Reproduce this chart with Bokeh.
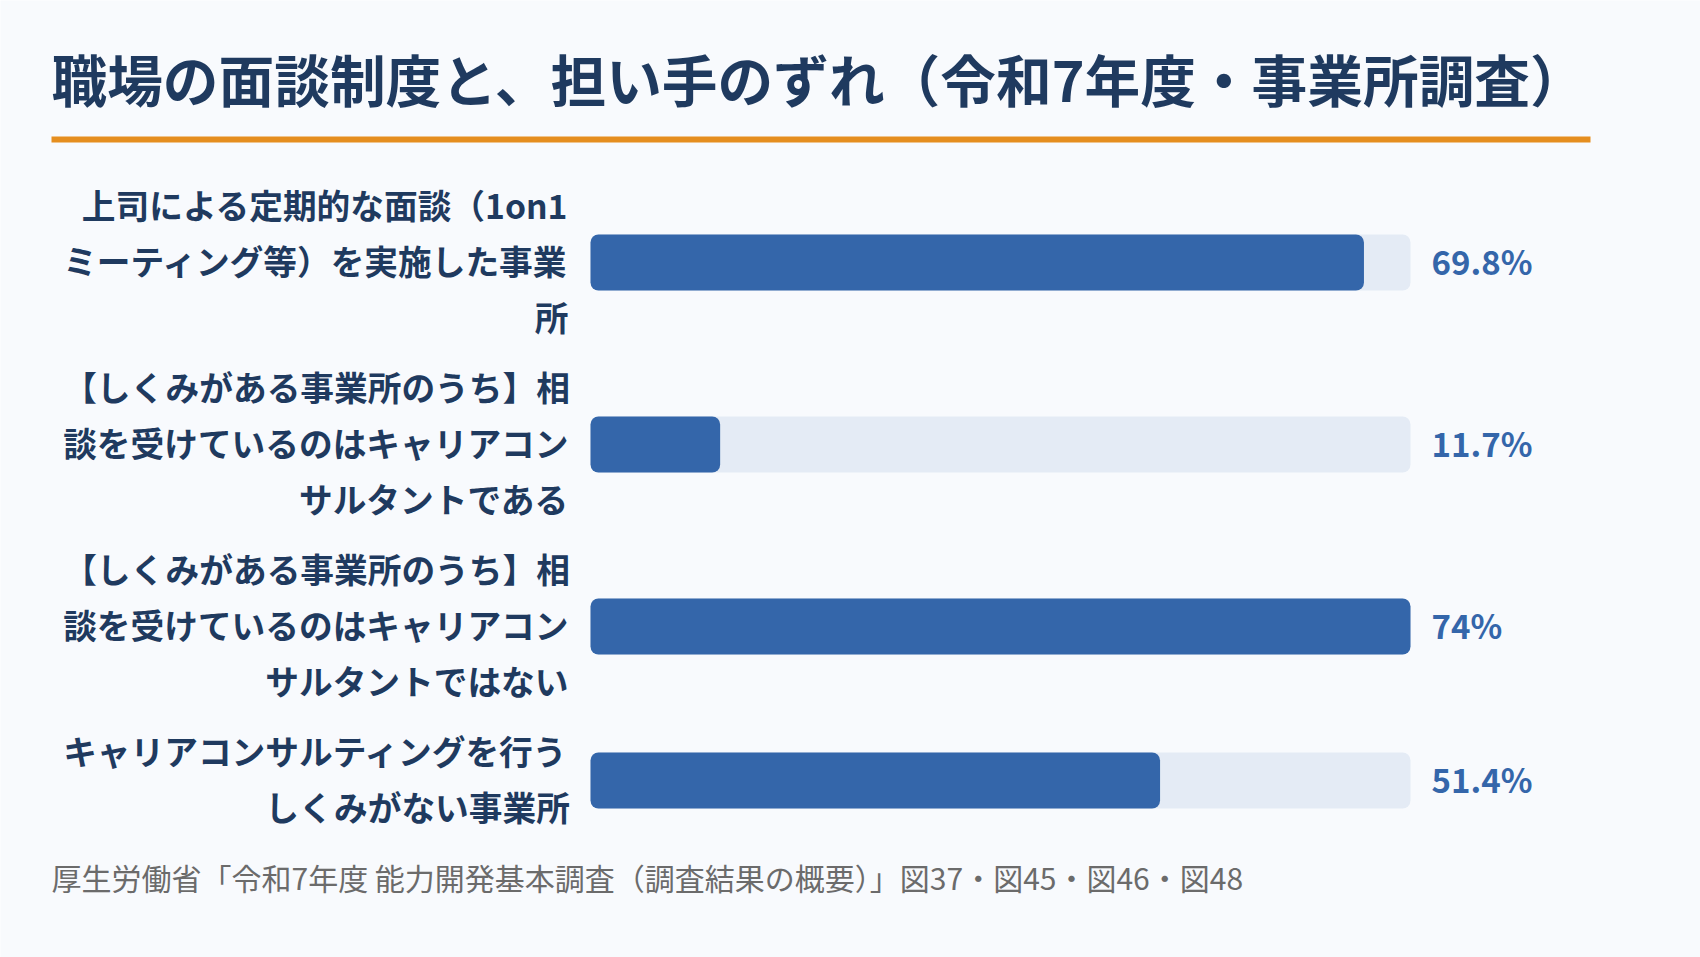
from bokeh.plotting import figure
from bokeh.models import Range1d
from bokeh.core.properties import value
from bokeh.embed import file_html
from bokeh.resources import INLINE

### Données (rapport de l'enquête)

title = "職場の面談制度と、担い手のずれ（令和7年度・事業所調査）"
source_note = "厚生労働省「令和7年度 能力開発基本調査（調査結果の概要）」図37・図45・図46・図48"

labels = [
    ["上司による定期的な面談（1on1", "ミーティング等）を実施した事業", "所"],
    ["【しくみがある事業所のうち】相", "談を受けているのはキャリアコン", "サルタントである"],
    ["【しくみがある事業所のうち】相", "談を受けているのはキャリアコン", "サルタントではない"],
    ["キャリアコンサルティングを行う", "しくみがない事業所"],
]
values = [69.8, 11.7, 74, 51.4]
value_labels = ["69.8%", "11.7%", "74%", "51.4%"]

### Mise en page (pixels de la page)

W, H = 1700, 957
FONT = "Noto Sans CJK JP"
NAVY = "#1f3a5f"
BLUE = "#3466aa"
TRACK = "#e4ebf5"
BG = "#f8fafd"

bar_left, bar_right = 590, 1410
vmax = max(values)
k = (bar_right - bar_left) / vmax   # pixels par point de %


def px(x):
    # pixel horizontal -> coordonnée en %
    return (x - bar_left) / k


p = figure(width=W, height=H, output_backend="svg", toolbar_location=None,
           x_range=Range1d(px(0), px(W)), y_range=Range1d(H, 0),
           min_border=0)
p.axis.visible = False
p.grid.visible = False
p.outline_line_color = None
p.background_fill_color = BG
p.border_fill_color = BG

# titre + filet orange
p.text(x=[px(51)], y=[77], text=[title], text_font=value(FONT), text_font_style="bold",
       text_font_size="55.7px", text_color=NAVY, text_baseline="middle", text_align="left")
p.segment(x0=[px(51)], y0=[139], x1=[px(1590)], y1=[139], line_color="#e58e1f",
          line_width=6, line_cap="butt")

# positions des lignes
line_h, gap = 56, 14
top = 178
lx, ly, lt = [], [], []
centers = []
for lines in labels:
    for i, t in enumerate(lines):
        lx.append(px(568))
        ly.append(top + line_h / 2 + i * line_h)
        lt.append(t)
    centers.append(top + len(lines) * line_h / 2)
    top += len(lines) * line_h + gap

p.text(x=lx, y=ly, text=lt, y_offset=-2, text_font=value(FONT), text_font_style="bold",
       text_font_size="33.7px", text_color=NAVY, text_align="right", text_baseline="middle")

# barres
p.hbar(y=centers, left=0, right=[vmax] * len(values), height=56, fill_color=TRACK,
       line_color=None, border_radius=8)
p.hbar(y=centers, left=0, right=values, height=56, fill_color=BLUE,
       line_color=None, border_radius=8)

p.text(x=[vmax] * len(values), y=centers, text=value_labels, x_offset=21, y_offset=-2,
       text_font=value(FONT), text_font_style="bold", text_font_size="33px",
       text_color=BLUE, text_align="left", text_baseline="middle")

# source
p.text(x=[px(51)], y=[876], text=[source_note], text_font=value(FONT),
       text_font_size="30px", text_color="#6b6b6b", text_align="left", text_baseline="middle")

html = file_html(p, INLINE)
html = html.replace("<body>", '<body style="background:%s">' % BG, 1)
open("out.html", "w").write(html)
